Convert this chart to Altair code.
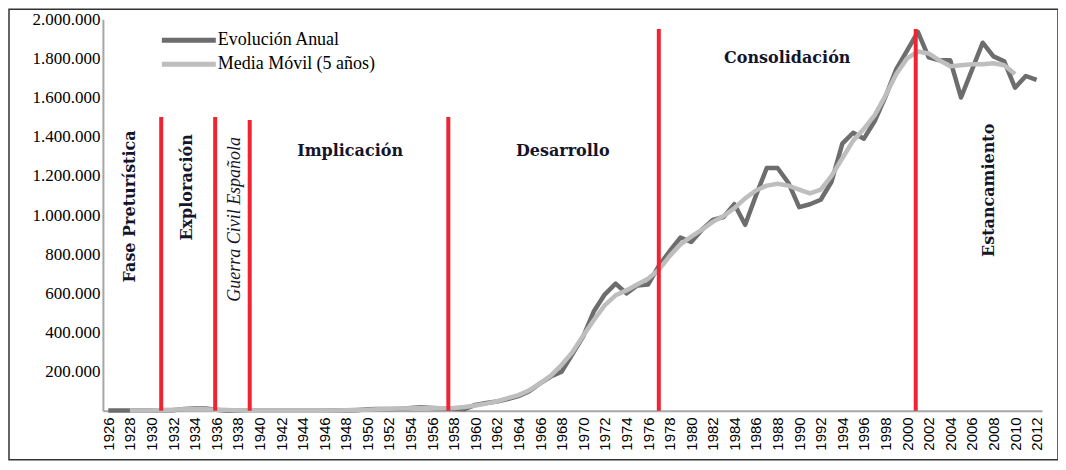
import altair as alt
import pandas as pd

# ---------------- data ----------------
years = list(range(1926, 2013))
annual = [
    2000, 2000, 2000, 2000, 2000, 3000, 3000, 10000, 12000, 12000,      # 1926-1935
    5000, 1000, 1000, 1000, 1000, 1000, 1000, 1000, 1000, 1000,         # 1936-1945
    1000, 2000, 2000, 3000, 8000, 9000, 9000, 10000, 15000, 18000,      # 1946-1955
    15000, 12000, 10000, 8000, 30000, 40000, 48000, 60000, 75000, 100000,  # 1956-1965
    140000, 175000, 200000, 290000, 380000, 510000, 595000, 650000, 600000, 640000,  # 1966-1975
    645000, 740000, 815000, 885000, 862000, 925000, 975000, 990000, 1055000, 950000,  # 1976-1985
    1100000, 1240000, 1240000, 1165000, 1040000, 1055000, 1078000, 1170000, 1365000, 1420000,  # 1986-1995
    1390000, 1480000, 1605000, 1745000, 1840000, 1935000, 1805000, 1790000, 1790000, 1600000,  # 1996-2005
    1740000, 1880000, 1810000, 1785000, 1650000, 1710000, 1690000,      # 2006-2012
]
ma_years = list(range(1928, 2011))
moving_avg = [
    2000, 2000, 2000, 4000, 6000, 8000, 8000, 8000,                     # 1928-1935
    6000, 4000, 2000, 1000, 1000, 1000, 1000, 1000, 1000, 1000,         # 1936-1945
    1000, 2000, 3000, 5000, 6000, 8000, 10000, 12000, 13000, 14000,     # 1946-1955
    14000, 13000, 15000, 20000, 27000, 37000, 48000, 65000, 80000, 105000,  # 1956-1965
    140000, 180000, 235000, 300000, 385000, 465000, 540000, 590000, 615000, 645000,  # 1966-1975
    675000, 720000, 790000, 850000, 890000, 925000, 965000, 995000, 1035000, 1085000,  # 1976-1985
    1125000, 1150000, 1160000, 1150000, 1130000, 1110000, 1130000, 1200000, 1290000, 1380000,  # 1986-1995
    1440000, 1510000, 1610000, 1720000, 1800000, 1835000, 1825000, 1790000, 1760000, 1765000,  # 1996-2005
    1770000, 1770000, 1775000, 1765000, 1720000,                        # 2006-2010
]
series_names = ["Evolución Anual", "Media Móvil (5 años)"]
series_colors = ["#6d6d6d", "#bebebe"]

# period boundaries (red lines)
break_years = [1930.9, 1935.9, 1939.1, 1957.5, 1977.0, 2000.8]
break_tops = [1500000, 1500000, 1485000, 1500000, 1950000, 1950000]

# period labels
phase_labels = ["Fase Preturística", "Exploración", "Guerra Civil Española", "Implicación",
                "Desarrollo", "Consolidación", "Estancamiento"]
phase_x = [1928.0, 1933.3, 1937.7, 1948.4, 1968.1, 1988.9, 2007.6]
phase_y = [1044000, 1141000, 978000, 1325000, 1325000, 1804000, 1126000]
phase_vertical = [True, True, True, False, False, False, True]
phase_italic = [False, False, True, False, False, False, False]

x_ticks = list(range(1926, 2013, 2))
y_ticks = list(range(200000, 2000001, 200000))

# ---------------- tables ----------------
df_lines = pd.concat([
    pd.DataFrame({"year": years, "value": annual, "serie": series_names[0]}),
    pd.DataFrame({"year": ma_years, "value": moving_avg, "serie": series_names[1]}),
])
df_breaks = pd.DataFrame({"year": break_years, "top": break_tops, "bottom": 0})
df_phase = pd.DataFrame({"label": phase_labels, "x": phase_x, "y": phase_y,
                         "vertical": phase_vertical, "italic": phase_italic})

W, H = 940, 392
SERIF = "Liberation Serif"
BOLD_FONT = "DejaVu Serif"

xscale = alt.Scale(domain=[1925.5, 2012.5], nice=False, zero=False)
yscale = alt.Scale(domain=[0, 2000000], nice=False)

x_axis = alt.Axis(values=x_ticks, format="d", labelAngle=270, labelAlign="right",
                  labelBaseline="middle", labelFont="Liberation Sans", labelFontSize=15,
                  labelColor="#000", ticks=False, domainColor="#a6a6a6", domainWidth=2,
                  labelPadding=6, title=None, grid=False, labelOverlap=False,
                  labelBound=False)
y_axis = alt.Axis(values=y_ticks,
                  labelExpr="replace(format(datum.value, ','), regexp(',', 'g'), '.')",
                  labelFont=SERIF, labelFontSize=17, labelColor="#000", ticks=False,
                  domainColor="#a6a6a6", domainWidth=2, labelPadding=3, title=None,
                  grid=False, labelOverlap=False)

X = lambda f: alt.X(f, scale=xscale, axis=x_axis)
Y = lambda f: alt.Y(f, scale=yscale, axis=y_axis)

lines = alt.Chart(df_lines).mark_line(strokeWidth=4.5, strokeJoin="round").encode(
    x=X("year:Q"),
    y=Y("value:Q"),
    color=alt.Color("serie:N",
                    scale=alt.Scale(domain=series_names, range=series_colors),
                    legend=None),
    order=alt.Order("year:Q"),
)

rules = alt.Chart(df_breaks).mark_rule(color="#ee2530", strokeWidth=4).encode(
    x=X("year:Q"), y=Y("bottom:Q"), y2="top:Q",
)

vert_bold = alt.Chart(df_phase).transform_filter(
    "datum.vertical && !datum.italic").mark_text(
    angle=270, font=BOLD_FONT, fontWeight="bold", fontSize=16, color="#14142a",
    align="center", baseline="middle").encode(
    x=X("x:Q"), y=Y("y:Q"), text="label:N")

vert_italic = alt.Chart(df_phase).transform_filter(
    "datum.vertical && datum.italic").mark_text(
    angle=270, font=SERIF, fontStyle="italic", fontSize=18, color="#14142a",
    align="center", baseline="middle").encode(
    x=X("x:Q"), y=Y("y:Q"), text="label:N")

horiz = alt.Chart(df_phase).transform_filter("!datum.vertical").mark_text(
    font=BOLD_FONT, fontWeight="bold", fontSize=16, color="#14142a",
    align="center", baseline="middle").encode(
    x=X("x:Q"), y=Y("y:Q"), text="label:N")

# legend drawn inside the plot area, top-left
legend_layers = []
for i, (name, col) in enumerate(zip(series_names, series_colors)):
    yy = 21 + 24 * i
    legend_layers.append(
        alt.Chart(pd.DataFrame({"k": [0]})).mark_rule(color=col, strokeWidth=5).encode(
            x=alt.value(59), x2=alt.value(113), y=alt.value(yy)))
    legend_layers.append(
        alt.Chart(pd.DataFrame({"k": [0]})).mark_text(
            text=name, font=SERIF, fontSize=18, color="#000", align="left",
            baseline="middle").encode(x=alt.value(115), y=alt.value(yy)))

frame = alt.Chart(pd.DataFrame({"k": [0]})).mark_rect(
    fill=None, stroke="#333", strokeWidth=1.5).encode(
    x=alt.value(-94), x2=alt.value(956), y=alt.value(-10), y2=alt.value(441))

chart = alt.layer(frame, lines, rules, vert_bold, vert_italic, horiz,
                  *legend_layers).properties(
    width=W, height=H,
    background="white",
    autosize=alt.AutoSizeParams(type="none"),
    padding={"left": 95, "top": 11, "right": 16, "bottom": 51},
).configure_view(strokeWidth=0).configure_axis(labelOverlap=False)

chart.save("out.html", embed_options={"renderer": "svg", "actions": False})
